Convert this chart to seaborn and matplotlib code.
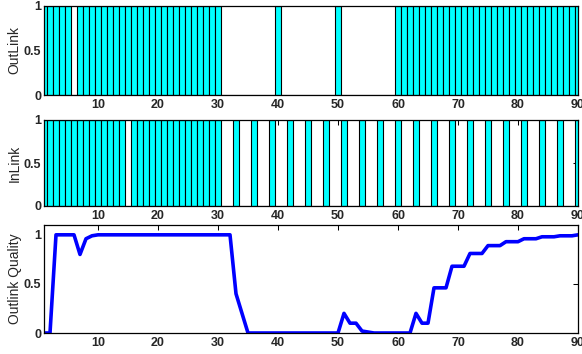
import matplotlib
matplotlib.use("Agg")
import matplotlib.pyplot as plt
import seaborn as sns

# ---- data ----
steps = list(range(1, 91))

outlink = [
    1, 1, 1, 1, 1, 0, 1, 1, 1, 1,   # 1-10
    1, 1, 1, 1, 1, 1, 1, 1, 1, 1,   # 11-20
    1, 1, 1, 1, 1, 1, 1, 1, 1, 1,   # 21-30
    0, 0, 0, 0, 0, 0, 0, 0, 0, 1,   # 31-40
    0, 0, 0, 0, 0, 0, 0, 0, 0, 1,   # 41-50
    0, 0, 0, 0, 0, 0, 0, 0, 0, 1,   # 51-60
    1, 1, 1, 1, 1, 1, 1, 1, 1, 1,   # 61-70
    1, 1, 1, 1, 1, 1, 1, 1, 1, 1,   # 71-80
    1, 1, 1, 1, 1, 1, 1, 1, 1, 1,   # 81-90
]

inlink = [
    1, 1, 1, 1, 1, 1, 1, 1, 1, 1,   # 1-10
    1, 1, 1, 1, 0, 1, 1, 1, 1, 1,   # 11-20
    1, 1, 1, 1, 1, 1, 1, 1, 1, 1,   # 21-30
    0, 0, 1, 0, 0, 1, 0, 0, 1, 0,   # 31-40
    0, 1, 0, 0, 1, 0, 0, 1, 0, 0,   # 41-50
    1, 0, 0, 1, 0, 0, 1, 0, 0, 1,   # 51-60
    0, 0, 1, 0, 0, 1, 0, 0, 1, 0,   # 61-70
    0, 1, 0, 0, 1, 0, 0, 1, 0, 0,   # 71-80
    1, 0, 0, 1, 0, 0, 1, 0, 0, 1,   # 81-90
]

quality = [
    0, 0, 1, 1, 1, 1, 0.8, 0.96, 0.99, 1,                 # 1-10
    1, 1, 1, 1, 1, 1, 1, 1, 1, 1,                         # 11-20
    1, 1, 1, 1, 1, 1, 1, 1, 1, 1,                         # 21-30
    1, 1, 0.4, 0.2, 0, 0, 0, 0, 0, 0,                     # 31-40
    0, 0, 0, 0, 0, 0, 0, 0, 0, 0,                         # 41-50
    0.2, 0.1, 0.1, 0.02, 0.01, 0, 0, 0, 0, 0,             # 51-60
    0, 0, 0.2, 0.1, 0.1, 0.46, 0.46, 0.46, 0.68, 0.68,    # 61-70
    0.68, 0.81, 0.81, 0.81, 0.89, 0.89, 0.89, 0.93, 0.93, 0.93,  # 71-80
    0.96, 0.96, 0.96, 0.98, 0.98, 0.98, 0.99, 0.99, 0.99, 1.0,   # 81-90
]

xticks = [10, 20, 30, 40, 50, 60, 70, 80, 90]
yticks = [0, 0.5, 1]
ytick_labels = ["0", "0.5", "1"]
ylabels = ["OutLink", "InLink", "Outlink Quality"]

# ---- style ----
sns.set_style("white")
plt.rcParams["font.family"] = ["Liberation Sans", "DejaVu Sans"]

W, H = 582, 354
fig = plt.figure(figsize=(W / 100, H / 100), dpi=100)


def rect(l, r, t, b):
    return [l / W, 1 - b / H, (r - l) / W, (b - t) / H]


ax1 = fig.add_axes(rect(44, 578, 6, 95))
ax2 = fig.add_axes(rect(44, 578, 120, 206))
ax3 = fig.add_axes(rect(44, 578, 225, 333))

for ax, vals in ((ax1, outlink), (ax2, inlink)):
    sns.barplot(x=steps, y=vals, native_scale=True, width=1, color=(0, 1, 1),
                saturation=1, edgecolor="black", linewidth=0.8, ax=ax,
                errorbar=None)
    ax.set_ylim(0, 1)

sns.lineplot(x=steps, y=quality, color=(0, 0, 1), linewidth=2.6, ax=ax3)
ax3.set_ylim(0, 1.1)

for ax, lab in zip((ax1, ax2, ax3), ylabels):
    ax.set_xlim(1, 90)
    ax.set_xticks(xticks)
    ax.set_xticklabels([str(t) for t in xticks], fontweight="bold", fontsize=9)
    ax.set_yticks(yticks)
    ax.set_yticklabels(ytick_labels, fontweight="bold", fontsize=9)
    ax.set_axisbelow(True)
    ax.tick_params(direction="in", top=True, right=True, length=3.5,
                   width=0.75, color="black", pad=3)
    ax.tick_params(axis="y", pad=2)
    for s in ax.spines.values():
        s.set_visible(True)
        s.set_color("black")
        s.set_linewidth(0.9)
    ax.set_xlabel("")
    ax.set_ylabel(lab, fontsize=10)
    ax.yaxis.set_label_coords(-0.055, 0.5)
    ax.yaxis.label.set_verticalalignment("center")
    ax.set_facecolor("white")

fig.savefig("out.png", dpi=100, facecolor="white")
